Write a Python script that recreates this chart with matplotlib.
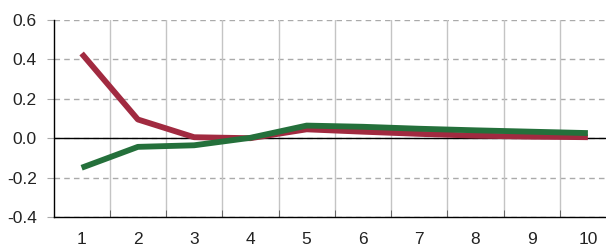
import numpy as np
import matplotlib.pyplot as plt
from matplotlib.ticker import FixedLocator

plt.rcParams['font.family'] = ['Liberation Sans', 'DejaVu Sans']

periods = [1, 2, 3, 4, 5, 6, 7, 8, 9, 10]
red_series = [0.43, 0.095, 0.005, 0.0, 0.045, 0.033, 0.022, 0.013, 0.008, 0.005]
green_series = [-0.15, -0.044, -0.036, 0.002, 0.064, 0.058, 0.048, 0.040, 0.033, 0.026]
y_ticks = [-0.4, -0.2, 0.0, 0.2, 0.4, 0.6]

fig = plt.figure(figsize=(6.06, 2.44), dpi=100)
ax = fig.add_axes([53.5 / 606, 27 / 244, 562.5 / 606, 197 / 244])

x = np.array(periods)
ax.set_xlim(0.5, 10.5)
ax.set_ylim(-0.4, 0.6)

# grid: dashed horizontal, solid vertical at category boundaries
for yv in y_ticks:
    ax.axhline(yv, color="#aaaaaa", lw=1.0, ls=(0, (4, 3)), zorder=1)
for xb in np.arange(1.5, 10.5, 1.0):
    ax.axvline(xb, color="#c4c4c4", lw=1.0, zorder=1)
ax.axhline(0, color="black", lw=1.0, zorder=2)

ax.plot(x, red_series, color="#a12a40", lw=4.2, solid_capstyle="butt", zorder=3)
ax.plot(x, green_series, color="#24703b", lw=4.2, solid_capstyle="butt", zorder=4)

ax.set_yticks(y_ticks)
ax.set_yticklabels([f"{v:.1f}" for v in y_ticks])
ax.set_xticks(periods)
ax.set_xticklabels([str(p) for p in periods])
ax.xaxis.set_minor_locator(FixedLocator(np.arange(1.5, 10.5, 1.0)))

ax.tick_params(axis="x", which="major", length=0, pad=11, labelsize=12.5, colors="#222222")
ax.tick_params(axis="x", which="minor", length=5, direction="in", color="#555555")
ax.tick_params(axis="y", length=5, direction="out", color="#aaaaaa", pad=7,
               labelsize=12.5, labelcolor="#222222")

for side in ("top", "right"):
    ax.spines[side].set_visible(False)
ax.spines["left"].set_color("black")
ax.spines["bottom"].set_color("black")
ax.spines["left"].set_linewidth(1.0)
ax.spines["bottom"].set_linewidth(1.0)

fig.savefig("out.png", dpi=100)
